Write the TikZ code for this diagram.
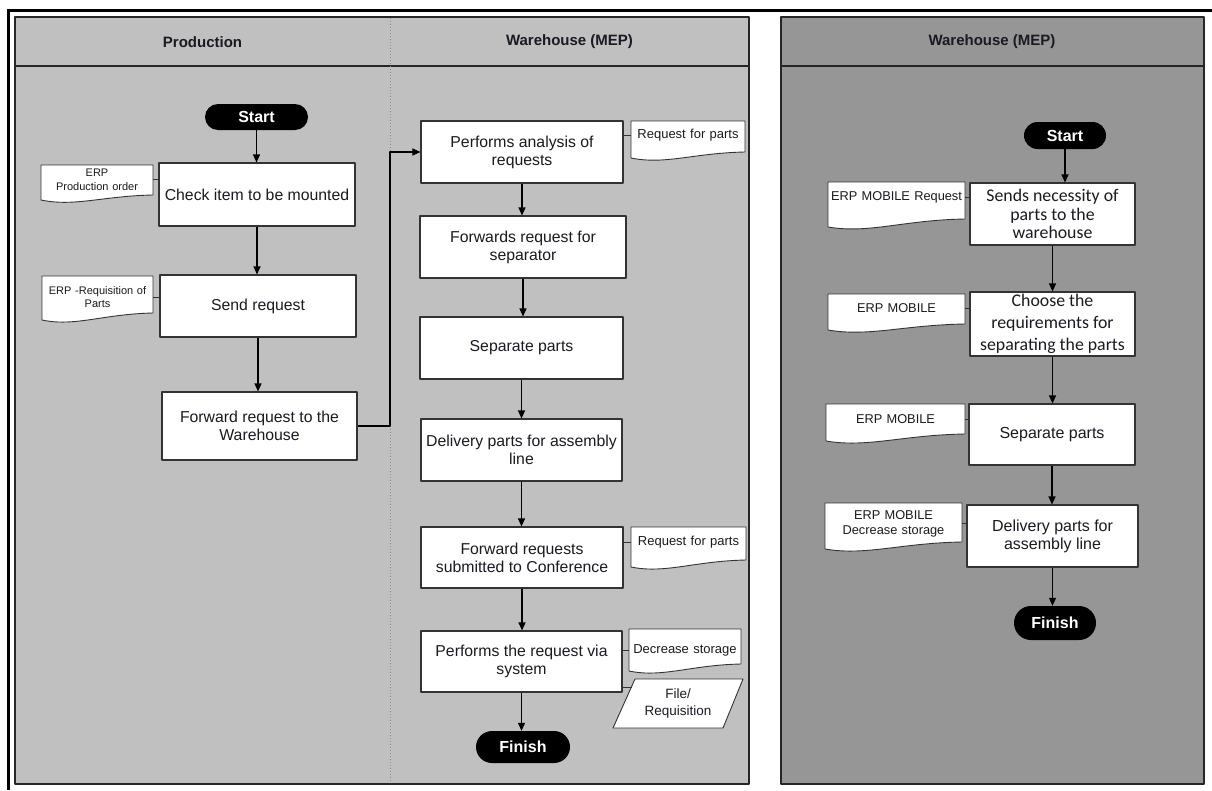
\documentclass[tikz,border=0pt]{standalone}
\usepackage{fontspec}
\setmainfont{Liberation Sans}
\newfontfamily\calib{Carlito}
\usetikzlibrary{arrows.meta,calc}
\definecolor{lanegray}{HTML}{C0C0C0}
\definecolor{darklane}{HTML}{969696}
\definecolor{edge}{HTML}{333333}
\definecolor{ink}{HTML}{1A1A22}
\newcommand\fsz[2]{\fontsize{#1pt}{#2pt}\selectfont}
% x1 x2 top yRight yLeft
\newcommand\docshape[5]{%
  \path[docpath] (#1,#3) -- (#2,#3) -- (#2,#4)
    .. controls ({#1+0.55*(#2-#1)},{#4+1}) and ({#1+0.3*(#2-#1)},{#5+7}) .. (#1,#5) -- cycle;}
\begin{document}
\begin{tikzpicture}[x=1pt,y=-1pt,line join=round,
  box/.style={draw=edge,line width=1.1pt,fill=white,align=center,inner sep=0pt,
    text=ink,font=\fsz{15.8}{18}},
  term/.style={fill=black,text=white,inner sep=0pt,font=\bfseries\fsz{16}{18}},
  docnode/.style={inner xsep=0pt,inner ysep=1pt,align=center,text=ink,font=\fsz{11}{14}},
  docpath/.style={draw=edge,line width=0.9pt,fill=white},
  arr/.style={draw=black,line width=1.1pt,-{Triangle[length=8pt,width=7pt]}},
  link/.style={draw=edge,line width=1pt},
  head/.style={text=ink,font=\bfseries\fsz{15}{18}}]
\useasboundingbox (0,0) rectangle (1212,790);
\fill[white] (0,0) rectangle (1212,790);
% frame lines
\draw[line width=3pt,black] (7,10) -- (1212,10);
\draw[line width=3pt,black] (8,10) -- (8,790);
% panels
\path[fill=lanegray,draw=black!85,line width=2pt] (15,17) rectangle (749,784);
\path[fill=darklane,draw=black!85,line width=2pt] (781,17) rectangle (1204,784);
\draw[black!85,line width=1.2pt] (15,66) -- (749,66);
\draw[black!85,line width=1.2pt] (781,66) -- (1204,66);
\draw[black!45,line width=1pt,dotted] (390,18) -- (390,783);
% headers
\node[head] (hprod) at (202.5,42) {Production};
\node[head] (hwh1) at (569.5,42) {Warehouse (MEP)};
\node[head] (hwh2) at (992,42) {Warehouse (MEP)};

% ---------- Production lane ----------
\node[term,minimum width=103pt,minimum height=26pt,rounded corners=13pt] (start1) at (256.5,117) {Start};
\node[box,minimum width=196pt,minimum height=63pt] (check) at (257,194.5) {Check item to be mounted};
\node[box,minimum width=196pt,minimum height=62pt] (send) at (258,306) {Send request};
\node[box,minimum width=195pt,minimum height=68pt] (fwd) at (259.5,426) {Forward request to the\\Warehouse};

\docshape{41}{153}{165}{195}{200}
\node[docnode,text width=112pt] (d1) at (97,179.5) {ERP\\Production order};
\docshape{42}{153}{276}{313}{320}
\node[docnode,text width=111pt,font=\fsz{11}{13}] (d2) at (97.5,297.5) {ERP -Requisition of\\Parts};

% ---------- Warehouse lane ----------
\node[box,minimum width=202pt,minimum height=62pt] (perf1) at (522,152) {Performs analysis of\\requests};
\node[box,minimum width=206pt,minimum height=62pt] (fwdsep) at (523,247) {Forwards request for\\separator};
\node[box,minimum width=203pt,minimum height=62pt] (sep1) at (521.5,348) {Separate parts};
\node[box,minimum width=201pt,minimum height=62pt] (deliv1) at (521.5,450) {Delivery parts for assembly\\line};
\node[box,minimum width=202pt,minimum height=61pt] (fwdconf) at (522,557.5) {Forward requests\\submitted to Conference};
\node[box,minimum width=201pt,minimum height=61pt] (perf2) at (521.5,661.5) {Performs the request via\\system};
\node[term,minimum width=94pt,minimum height=32pt,rounded corners=16pt] (finish1) at (523,747) {Finish};

\docshape{631}{745}{121}{152}{158}
\node[docnode,text width=114pt,font=\fsz{13}{15}] (d3) at (688,135) {Request for parts};
\docshape{631}{746}{527}{560}{567}
\node[docnode,text width=115pt,font=\fsz{13}{15}] (d4) at (688.5,542) {Request for parts};
\docshape{629}{741}{629}{664}{671}
\node[docnode,text width=112pt,font=\fsz{13}{15}] (d5) at (685,650) {Decrease storage};
\path[docpath] (635,679) -- (743,679) -- (723,728) -- (613,728) -- cycle;
\node[docnode,font=\fsz{13.5}{17},align=center] (file) at (678,703.5) {File/\\Requisition};
\coordinate (filein) at (632,687);

% ---------- Right panel ----------
\node[term,minimum width=82pt,minimum height=27pt,rounded corners=13.5pt] (start2) at (1065,135.5) {Start};
\node[box,minimum width=165pt,minimum height=62pt,font=\calib\fsz{17.8}{18.5}] (sends) at (1052.5,214) {Sends necessity of\\parts to the\\warehouse};
\node[box,minimum width=165pt,minimum height=64pt,font=\calib\fsz{17.8}{22}] (choose) at (1052.5,324) {Choose the\\requirements for\\separating the parts};
\node[box,minimum width=166pt,minimum height=61pt,font=\fsz{16}{18}] (sep2) at (1052,434.5) {Separate parts};
\node[box,minimum width=171pt,minimum height=62pt,font=\fsz{16}{18}] (deliv2) at (1052.5,536) {Delivery parts for\\assembly line};
\node[term,minimum width=82pt,minimum height=34pt,rounded corners=17pt] (finish2) at (1055,623) {Finish};

\docshape{828}{965}{182}{219}{227}
\node[docnode,text width=137pt,font=\fsz{12.8}{15}] (r1) at (896.5,197) {ERP MOBILE Request};
\docshape{828}{965}{294}{324}{330}
\node[docnode,text width=137pt,font=\fsz{12.8}{15}] (r2) at (896.5,308) {ERP MOBILE};
\docshape{826}{965}{404}{434}{441}
\node[docnode,text width=139pt,font=\fsz{12.8}{15}] (r3) at (895.5,419) {ERP MOBILE};
\docshape{825}{962}{503}{542}{549}
\node[docnode,text width=137pt,font=\fsz{12.8}{15}] (r4) at (893.5,523.5) {ERP MOBILE\\Decrease storage};

% ---------- connectors ----------
\draw[arr] (start1.south) -- (start1.south |- check.north);
\draw[arr] (check.south) -- (check.south |- send.north);
\draw[arr] (send.south) -- (send.south |- fwd.north);
\coordinate (bend) at (390,152);
\draw[arr] (fwd.east) -| (bend) |- (perf1.west);
\draw[arr] (perf1.south) -- (perf1.south |- fwdsep.north);
\draw[arr] (fwdsep.south) -- (fwdsep.south |- sep1.north);
\draw[arr] (sep1.south) -- (sep1.south |- deliv1.north);
\draw[arr] (deliv1.south) -- (deliv1.south |- fwdconf.north);
\draw[arr] (fwdconf.south) -- (fwdconf.south |- perf2.north);
\draw[arr] (perf2.south) -- (perf2.south |- finish1.north);

\draw[link] (d1.east) -- (d1.east -| check.west);
\draw[link] (d2.east) -- (d2.east -| send.west);
\draw[link] (perf1.east |- d3.west) -- (d3.west);
\draw[link] (fwdconf.east |- d4.west) -- (d4.west);
\draw[link] (perf2.east |- d5.west) -- (d5.west);
\draw[link] (filein -| perf2.east) -- (filein);

\draw[arr] (start2.south) -- (start2.south |- sends.north);
\draw[arr] (sends.south) -- (sends.south |- choose.north);
\draw[arr] (choose.south) -- (choose.south |- sep2.north);
\draw[arr] (sep2.south) -- (sep2.south |- deliv2.north);
\draw[arr] (deliv2.south) -- (deliv2.south |- finish2.north);

\draw[link] (r1.east) -- (r1.east -| sends.west);
\draw[link] (r2.east) -- (r2.east -| choose.west);
\draw[link] (r3.east) -- (r3.east -| sep2.west);
\draw[link] (r4.east) -- (r4.east -| deliv2.west);
\end{tikzpicture}
\end{document}
